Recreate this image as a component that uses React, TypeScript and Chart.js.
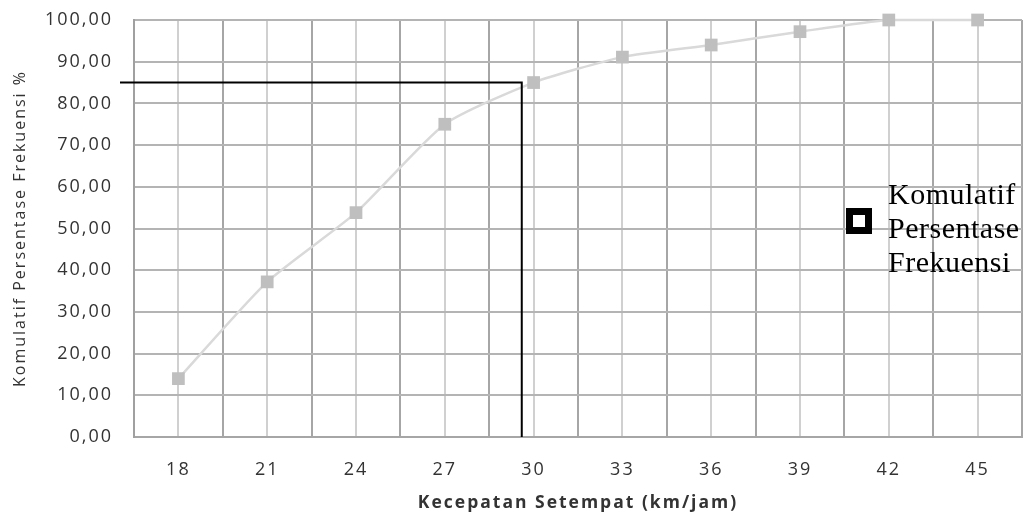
import { useEffect, useRef } from 'react';
import { Chart, registerables } from 'chart.js';

Chart.register(...registerables);

// Spot speed classes (km/jam) and cumulative frequency percentage
const speeds = ['18', '21', '24', '27', '30', '33', '36', '39', '42', '45'];
const cumulativePct = [14.0, 37.2, 53.8, 75.0, 85.0, 91.1, 94.0, 97.2, 100, 100];

// 85th percentile guide
const v85Speed = 29.6;
const v85Pct = 85;

const yMin = 0;
const yMax = 100;
const yStep = 10;

const xTitle = 'Kecepatan Setempat (km/jam)';
const yTitle = 'Komulatif Persentase Frekuensi %';
const legendLines = ['Komulatif', 'Persentase', 'Frekuensi'];

const tickFont = { family: "'Open Sans', sans-serif", size: 18 };
const textColor = '#333333';

const spacingPlugin = {
  id: 'letterSpacing',
  beforeDraw(chart: any) {
    chart.ctx.letterSpacing = '2px';
  },
};

const overlayPlugin = {
  id: 'overlay',
  afterDraw(chart: any) {
    const { ctx, chartArea, scales } = chart;
    const first = Number(speeds[0]);
    const step = Number(speeds[1]) - first;
    const gx = scales.x.getPixelForValue((v85Speed - first) / step);
    const gy = scales.y.getPixelForValue(v85Pct);
    const gBottom = scales.y.getPixelForValue(yMin);

    ctx.save();
    ctx.strokeStyle = '#000000';
    ctx.lineWidth = 2;
    ctx.beginPath();
    ctx.moveTo(chartArea.left - 14, gy);
    ctx.lineTo(gx, gy);
    ctx.lineTo(gx, gBottom);
    ctx.stroke();

    // legend
    const mx = 846;
    const my = 208;
    ctx.fillStyle = '#000000';
    ctx.fillRect(mx, my, 26, 26);
    ctx.fillStyle = '#ffffff';
    ctx.fillRect(mx + 7, my + 7, 12, 12);

    ctx.letterSpacing = '0.5px';
    ctx.fillStyle = '#000000';
    ctx.font = "30px 'Liberation Serif', serif";
    ctx.textAlign = 'left';
    ctx.textBaseline = 'alphabetic';
    legendLines.forEach((line, i) => {
      ctx.fillText(line, 888, 203.5 + i * 34);
    });
    ctx.restore();
  },
};

export default function App() {
  const canvasRef = useRef<HTMLCanvasElement | null>(null);

  useEffect(() => {
    const canvas = canvasRef.current;
    if (!canvas) return;
    const chart = new Chart(canvas, {
      type: 'line',
      data: {
        labels: speeds,
        datasets: [
          {
            label: legendLines.join(' '),
            data: cumulativePct,
            borderColor: '#D9D9D9',
            borderWidth: 2.5,
            pointStyle: 'rect',
            pointRadius: 9,
            pointHoverRadius: 9,
            pointBackgroundColor: '#BFBFBF',
            pointBorderWidth: 0,
            pointBorderColor: '#BFBFBF',
            tension: 0.2,
            clip: false,
            xAxisID: 'x',
            yAxisID: 'y',
          },
        ],
      },
      options: {
        responsive: false,
        animation: false,
        devicePixelRatio: 1,
        layout: { padding: { top: 20, right: 9, left: 0, bottom: 0 } },
        plugins: {
          legend: { display: false },
          tooltip: { enabled: false },
        },
        scales: {
          x: {
            type: 'category',
            position: 'bottom',
            offset: true,
            grid: { offset: true, color: '#A6A6A6', lineWidth: 2, drawTicks: false },
            border: { display: true, color: '#A6A6A6', width: 2 },
            ticks: {
              color: textColor,
              font: tickFont,
              padding: 22,
              autoSkip: false,
              maxRotation: 0,
            },
            title: {
              display: true,
              text: xTitle,
              color: textColor,
              font: { family: "'Open Sans', sans-serif", size: 17.5, weight: 'bold', lineHeight: 1 },
              padding: { top: 0, bottom: 0 },
            },
            afterFit(scale: any) {
              scale.height = 75;
              scale.paddingLeft = 0;
              scale.paddingRight = 0;
            },
          },
          x2: {
            type: 'category',
            position: 'bottom',
            offset: true,
            grid: { offset: false, color: '#D0D0D0', lineWidth: 2, drawTicks: false },
            border: { display: false },
            ticks: { display: false },
            afterFit(scale: any) {
              scale.height = 0;
            },
          },
          y: {
            min: yMin,
            max: yMax,
            grid: { color: '#B4B4B4', lineWidth: 2, drawTicks: false },
            border: { display: true, color: '#A0A0A0', width: 2 },
            ticks: {
              stepSize: yStep,
              color: textColor,
              font: tickFont,
              padding: 21,
              callback: (v: any) => Number(v).toFixed(2).replace('.', ','),
            },
            title: {
              display: true,
              text: yTitle,
              color: textColor,
              font: { family: "'Open Sans', sans-serif", size: 16 },
              padding: { top: 11, bottom: 0 },
            },
            afterFit(scale: any) {
              scale.width = 134;
              scale.paddingTop = 0;
              scale.paddingBottom = 0;
            },
          },
        },
      },
      plugins: [spacingPlugin, overlayPlugin],
    } as any);
    return () => chart.destroy();
  }, []);

  return (
    <div style={{ position: 'absolute', left: 0, top: 0, width: 1031, height: 512, background: '#ffffff' }}>
      <canvas ref={canvasRef} width={1031} height={512} style={{ display: 'block' }} />
    </div>
  );
}
